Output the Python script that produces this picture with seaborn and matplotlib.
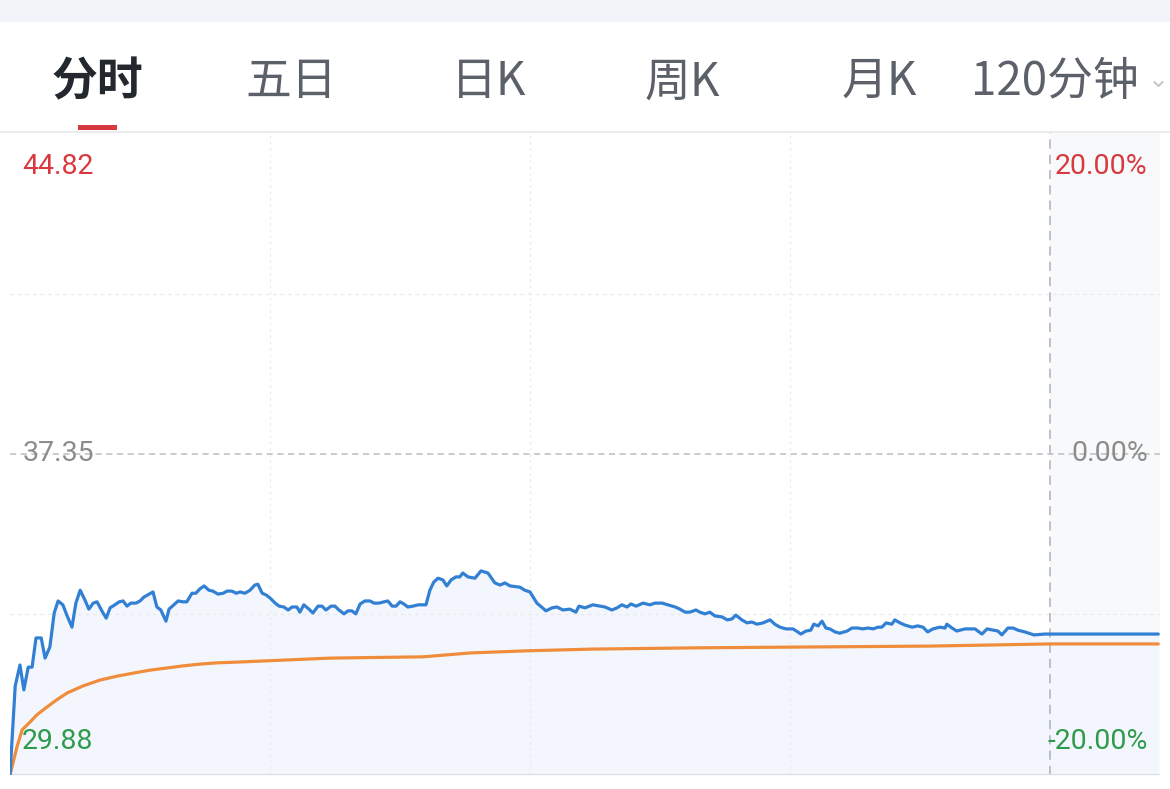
import numpy as np
import seaborn as sns
import matplotlib.pyplot as plt
from matplotlib.lines import Line2D
from matplotlib.patches import Rectangle

# tabs
tab_labels = ['分时', '五日', '日K', '周K', '月K', '120分钟']

# price axis
prev_close = 37.35
price_high = 44.82
price_low = 29.88
left_labels = ['44.82', '37.35', '29.88']
right_labels = ['20.00%', '0.00%', '-20.00%']

# intraday price (minutes since open, price), 240 = 15:00, after that fixed-price session
price_min = [0, 1.2, 2.3, 3.2, 4.2, 5.1, 6.0, 7.2, 8.1, 9.2, 10.2, 11.1, 12.2, 13.2, 14.3, 15.2,
             16.2, 17.3, 18.2, 19.2, 20.1, 21.2, 22.2, 23.1, 24.2, 25.2, 26.1, 27.0, 27.9, 29.1,
             30.0, 30.9, 32.1, 33.0, 33.9, 34.8, 36.0, 36.7, 37.8, 38.8, 39.9, 40.8, 42.0, 42.9,
             43.8, 44.8, 45.9, 46.8, 48.0, 49.2, 50.1, 51.2, 52.2, 53.1, 54.2, 55.4, 56.5, 57.2,
             58.2, 59.1, 60.0, 61.2, 62.1, 63.2, 64.2, 65.1, 66.2, 66.9, 67.8, 69.0, 69.9, 71.1,
             72.0, 72.9, 74.1, 75.0, 75.9, 77.1, 78.0, 78.9, 79.8, 80.8, 81.9, 83.1, 84.0, 85.2,
             86.3, 87.2, 88.2, 89.1, 90.0, 90.9, 91.8, 93.0, 94.2, 95.1, 96.0, 96.9, 97.8, 98.8,
             99.9, 100.8, 101.8, 102.9, 103.8, 104.5, 105.7, 107.3, 108.7, 110.3, 111.9, 113.1,
             114.2, 115.4, 117.7, 118.8, 120.0, 121.6, 123.7, 125.1, 126.2, 127.6, 129.2, 130.6,
             131.3, 132.7, 134.5, 136.2, 137.3, 138.9, 140.1, 141.2, 142.4, 143.3, 144.5, 146.1,
             147.7, 148.8, 150.5, 151.8, 153.5, 154.6, 155.8, 156.9, 158.3, 159.2, 160.4, 161.5,
             162.7, 164.3, 165.5, 166.6, 167.5, 168.9, 170.1, 171.2, 172.4, 173.8, 175.4, 176.5,
             177.7, 179.1, 180.7, 181.8, 182.5, 183.7, 184.8, 185.5, 186.5, 187.4, 188.3, 189.2,
             190.4, 191.5, 193.2, 194.3, 195.7, 196.8, 198.0, 199.2, 200.3, 201.2, 202.2, 203.5,
             204.2, 205.4, 206.5, 208.2, 209.5, 210.7, 211.8, 213.0, 214.6, 215.8, 216.2, 217.4,
             218.5, 220.4, 222.7, 224.3, 225.5, 228.0, 228.9, 230.3, 231.5, 232.6, 234.2, 236.3,
             238.8, 240.0, 265.0]
price = [29.88, 31.95, 32.44, 31.86, 32.39, 32.39, 33.07, 33.07, 32.60, 32.86, 33.65, 33.93,
         33.84, 33.58, 33.32, 33.88, 34.18, 33.95, 33.74, 33.88, 33.91, 33.70, 33.53, 33.77,
         33.84, 33.91, 33.93, 33.81, 33.88, 33.88, 33.93, 34.02, 34.09, 34.14, 33.79, 33.72,
         33.46, 33.74, 33.84, 33.93, 33.91, 33.91, 34.11, 34.11, 34.21, 34.28, 34.18, 34.16,
         34.09, 34.11, 34.16, 34.16, 34.11, 34.14, 34.11, 34.18, 34.30, 34.32, 34.11, 34.07,
         34.00, 33.88, 33.81, 33.79, 33.72, 33.79, 33.79, 33.67, 33.84, 33.74, 33.65, 33.81,
         33.81, 33.72, 33.81, 33.81, 33.72, 33.63, 33.70, 33.70, 33.63, 33.86, 33.93, 33.93,
         33.88, 33.88, 33.91, 33.93, 33.81, 33.81, 33.91, 33.86, 33.79, 33.81, 33.84, 33.84,
         33.84, 34.18, 34.37, 34.46, 34.42, 34.28, 34.42, 34.49, 34.49, 34.58, 34.49, 34.46,
         34.63, 34.58, 34.35, 34.30, 34.35, 34.28, 34.25, 34.18, 34.14, 33.88, 33.70, 33.77,
         33.79, 33.72, 33.74, 33.67, 33.81, 33.77, 33.84, 33.81, 33.79, 33.72, 33.77, 33.84,
         33.79, 33.86, 33.81, 33.88, 33.84, 33.88, 33.88, 33.84, 33.79, 33.74, 33.67, 33.67,
         33.72, 33.67, 33.63, 33.67, 33.58, 33.56, 33.49, 33.51, 33.60, 33.49, 33.42, 33.44,
         33.39, 33.42, 33.49, 33.39, 33.32, 33.28, 33.28, 33.21, 33.16, 33.23, 33.25, 33.39,
         33.35, 33.46, 33.30, 33.28, 33.21, 33.18, 33.23, 33.30, 33.30, 33.28, 33.30, 33.28,
         33.32, 33.32, 33.42, 33.39, 33.49, 33.42, 33.37, 33.32, 33.35, 33.32, 33.21, 33.28,
         33.32, 33.30, 33.39, 33.30, 33.23, 33.28, 33.28, 33.16, 33.28, 33.23, 33.14, 33.30,
         33.30, 33.25, 33.21, 33.14, 33.16, 33.16, 33.16]

# average price line
avg_min = [0, 1.6, 2.8, 4.6, 6.2, 8.5, 10.8, 13.2, 16.8, 20.8, 24.7, 28.4, 32.3, 36.2, 40.0,
           43.8, 47.8, 53.1, 73.8, 95.3, 106.2, 119.3, 134.5, 159.2, 212.3, 240.0, 265.0]
avg_price = [29.88, 30.53, 30.93, 31.11, 31.28, 31.46, 31.63, 31.79, 31.95, 32.09, 32.18,
             32.25, 32.32, 32.37, 32.42, 32.46, 32.49, 32.51, 32.60, 32.63, 32.72, 32.77,
             32.81, 32.84, 32.88, 32.93, 32.93]

sns.set_theme(style='white')
plt.rcParams['font.family'] = ['Roboto', 'Noto Sans CJK SC', 'DejaVu Sans']

W, H = 1170, 789
fig = plt.figure(figsize=(11.7, 7.89), dpi=100)
fig.patch.set_facecolor('white')

def fx(px):
    return px / W

def fy(py):
    return 1 - py / H

# top strip and tab bar
fig.patches.append(Rectangle((0, fy(22)), 1, 22 / H, transform=fig.transFigure,
                             facecolor='#f1f4f9', edgecolor='none'))
tab_x = [97, 291, 489, 682, 879, 1055]
for i, (lab, x) in enumerate(zip(tab_labels, tab_x)):
    fig.text(fx(x), fy(82), lab, ha='center', va='center', fontsize=33,
             color='#23272e' if i == 0 else '#5b6069', family=['Noto Sans CJK SC', 'DejaVu Sans'],
             fontweight='bold' if i == 0 else 'normal')
fig.text(fx(1158), fy(80), '⌄', ha='center', va='center', fontsize=18, color='#c4c7cc',
         family=['DejaVu Sans'])
fig.patches.append(Rectangle((fx(78), fy(130)), fx(39), 5 / H, transform=fig.transFigure,
                             facecolor='#d8383f', edgecolor='none'))
fig.lines.append(Line2D([0, 1], [fy(131.5), fy(131.5)], transform=fig.transFigure,
                        color='#e6e7ea', lw=1.2))

# chart
ax = fig.add_axes([fx(10), fy(775), fx(1150), (775 - 133) / H])
ax.set_xlim(0, 265.4)
ax.set_ylim(price_low, price_high)
ax.set_facecolor('white')
for s in ax.spines.values():
    s.set_visible(False)
ax.set_xticks([])
ax.set_yticks([])

ax.axvspan(240, 265.4, color='#f8f9fb', zorder=0, lw=0)
ax.fill_between(price_min, price, price_low, color='#f3f7fd', zorder=1, lw=0)

grid_c = '#e9eaed'
for yv in [(price_high + prev_close) / 2, (price_low + prev_close) / 2]:
    ax.axhline(yv, color=grid_c, lw=0.9, ls=(0, (3, 3)), zorder=2)
for xv in [60, 120, 180]:
    ax.axvline(xv, color=grid_c, lw=0.9, ls=(0, (2, 3)), zorder=2)
ax.axvline(240, color='#aab1bd', lw=1.1, ls=(0, (6, 4)), zorder=2)
ax.axhline(prev_close, color='#bdbdbd', lw=1.1, ls=(0, (4, 3)), zorder=2)
ax.axhline(price_low, color='#dcdde0', lw=1.5, zorder=2)

sns.lineplot(x=avg_min, y=avg_price, ax=ax, color='#ef8d3c', lw=2.3, zorder=4,
             estimator=None, sort=False)
sns.lineplot(x=price_min, y=price, ax=ax, color='#3280d4', lw=2.3, zorder=5,
             estimator=None, sort=False)

lab_y = [44.05, prev_close, 30.65]
colors = ['#d8383f', '#8c8c8c', '#2d9a4c']
for t, yv, c in zip(left_labels, lab_y, colors):
    ax.text(2.8, yv, t, ha='left', va='center', fontsize=20.5, color=c, zorder=6)
for t, yv, c in zip(right_labels, lab_y, colors):
    ax.text(262.6, yv, t, ha='right', va='center', fontsize=20.5, color=c, zorder=6)

fig.savefig('out.png', dpi=100, facecolor='white')
